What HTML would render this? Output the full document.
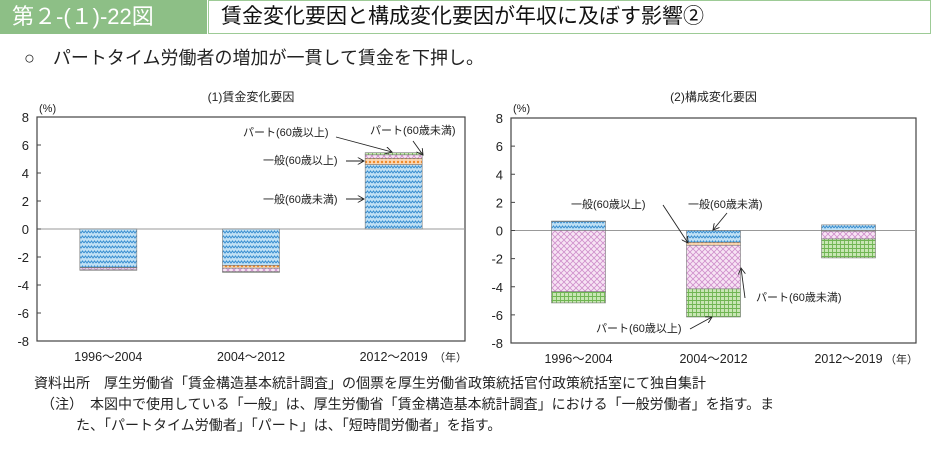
<!DOCTYPE html>
<html><head><meta charset="utf-8">
<style>
body{margin:0;width:933px;height:452px;background:#fff;overflow:hidden;font-family:"Liberation Sans","Noto Sans CJK JP",sans-serif;color:#222}
.abs{position:absolute}
</style></head>
<body>
<div class="abs" style="left:0;top:0;width:207px;height:34px;background:#8dbf86;color:#fff;font-size:22px;line-height:34px;padding-left:12px;box-sizing:border-box">第２-(１)-22図</div>
<div class="abs" style="left:208px;top:0;width:723px;height:34px;border:1.5px solid #9dcb96;box-sizing:border-box;font-size:21px;line-height:31px;padding-left:12px;color:#111">賃金変化要因と構成変化要因が年収に及ぼす影響②</div>
<div class="abs" style="left:24px;top:46px;font-size:18px;line-height:24px">○　パートタイム労働者の増加が一貫して賃金を下押し。</div>
<svg class="abs" style="left:0;top:0" width="933" height="452" id="svg">
<defs>
<pattern id="pBlue" width="6" height="5" patternUnits="userSpaceOnUse"><rect width="6" height="5" fill="#bfe0f5"/><path d="M0 3 L1.5 1 L3 3 L4.5 1 L6 3" stroke="#3a8fd0" stroke-width="1" fill="none"/></pattern>
<pattern id="pOrange" width="4" height="4" patternUnits="userSpaceOnUse"><rect width="4" height="4" fill="#fbd7b3"/><circle cx="2" cy="2" r="1.2" fill="#f08a2a"/></pattern>
<pattern id="pPink" width="6" height="6" patternUnits="userSpaceOnUse"><rect width="6" height="6" fill="#f7e3f4"/><path d="M0 0 L6 6 M6 0 L0 6" stroke="#cf8fcb" stroke-width="0.8"/></pattern>
<pattern id="pGreen" width="4" height="4" patternUnits="userSpaceOnUse"><rect width="4" height="4" fill="#c8e6b4"/><path d="M0 0.5 H4 M0.5 0 V4" stroke="#6fb552" stroke-width="0.9"/></pattern>
<marker id="arr" markerWidth="8" markerHeight="8" refX="7" refY="4" orient="auto"><path d="M0 0 L7 4 L0 8" fill="none" stroke="#222" stroke-width="1"/></marker>
</defs>
</svg>
<div class="abs" style="left:34px;top:373px;font-size:14px;line-height:21px">資料出所　厚生労働省「賃金構造基本統計調査」の個票を厚生労働省政策統括官付政策統括室にて独自集計<br>　（注）　本図中で使用している「一般」は、厚生労働省「賃金構造基本統計調査」における「一般労働者」を指す。ま<br>　　　た、「パートタイム労働者」「パート」は、「短時間労働者」を指す。</div>
<script>
const categories=["1996～2004","2004～2012","2012～2019"];
const yTicks=[8,6,4,2,0,-2,-4,-6,-8];
const seriesNames=["一般(60歳未満)","一般(60歳以上)","パート(60歳未満)","パート(60歳以上)"];
// left chart: wage change factor
const leftGenUnder=[-2.75,-2.6,4.6];
const leftGenOver=[-0.02,-0.2,0.45];
const leftPartUnder=[-0.15,-0.25,0.25];
const leftPartOver=[-0.03,-0.05,0.15];
// right chart: composition change factor
const rightGenUnder=[0.65,-0.85,0.4];
const rightGenOver=[0.02,-0.2,-0.05];
const rightPartUnder=[-4.35,-3.1,-0.55];
const rightPartOver=[-0.8,-2.0,-1.35];

const svg=document.getElementById('svg');
const NS='http://www.w3.org/2000/svg';
function mk(tag,attrs,parent){const e=document.createElementNS(NS,tag);for(const k in attrs)e.setAttribute(k,attrs[k]);(parent||svg).appendChild(e);return e;}
function txt(x,y,s,size,anchor,parent){const t=mk('text',{x:x,y:y,'font-size':size,'text-anchor':anchor||'start',fill:'#222'},parent);t.textContent=s;return t;}
const fills=['url(#pBlue)','url(#pOrange)','url(#pPink)','url(#pGreen)'];

function chart(name,L,R,T,B,title,series,barW){
  const g=mk('g',{});
  
  
  const y=v=>T+(8-v)/16*(B-T);
  const band=(R-L)/categories.length;
  const xc=i=>L+band*(i+0.5);
  const t=txt((L+R)/2,101,title,12,'middle',g);
  
  
  const u=txt(L+2,112,'(%)',11,'start',g);
  
  
  mk('rect',{x:L,y:T,width:R-L,height:B-T,fill:'none',stroke:'#444','stroke-width':1.2},g);
  mk('line',{x1:L,x2:R,y1:y(0),y2:y(0),stroke:'#999','stroke-width':1},g);
  yTicks.forEach(v=>{
    mk('line',{x1:L,x2:L+4,y1:y(v),y2:y(v),stroke:'#444'},g);
    const tl=txt(L-8,y(v)+5,String(v),13,'end',g);
    
    
  });
  categories.forEach((c,i)=>{
    const tl=txt(xc(i),y(-8)+20,c,12.5,'middle',g);
    
    
    let pos=0,neg=0;
    series.forEach((s,k)=>{
      const v=s[i];let y0,y1;
      if(v>=0){y0=pos;y1=pos+v;pos=y1;}else{y0=neg;y1=neg+v;neg=y1;}
      const r=mk('rect',{x:xc(i)-barW/2,y:Math.min(y(y0),y(y1)),width:barW,height:Math.abs(y(y0)-y(y1)),fill:fills[k],stroke:'#777','stroke-width':0.6},g);
      
      
    });
  });
  const yr=txt(R+2,y(-8)+20,'（年）',11,'end',g);
  
  
  return g;
}
const gl=chart('chart-wage-change',37,465,117,341,'(1)賃金変化要因',[leftGenUnder,leftGenOver,leftPartUnder,leftPartOver],57);
const gr=chart('chart-composition-change',511,916,118,343,'(2)構成変化要因',[rightGenUnder,rightGenOver,rightPartUnder,rightPartOver],54);
function ann(g,x,y,s,ax1,ay1,ax2,ay2,anchor){
  const t=txt(x,y,s,11,anchor||'start',g);
  
  
  mk('path',{d:'M'+ax1+' '+ay1+' L'+ax2+' '+ay2,stroke:'#222',fill:'none','stroke-width':0.9,'marker-end':'url(#arr)'},g);
}
ann(gl,243,136,'パート(60歳以上)',336,137,392,152);
ann(gl,370,134,'パート(60歳未満)',413,141,423,155);
ann(gl,263,164,'一般(60歳以上)',346,161,364,161);
ann(gl,263,203,'一般(60歳未満)',346,199,364,199);
ann(gr,571,208,'一般(60歳以上)',663,205,688,243);
ann(gr,688,208,'一般(60歳未満)',727,213,713,230);
ann(gr,756,301,'パート(60歳未満)',745,298,741,268);
ann(gr,596,332,'パート(60歳以上)',690,329,712,317);
</script>
</body></html>
